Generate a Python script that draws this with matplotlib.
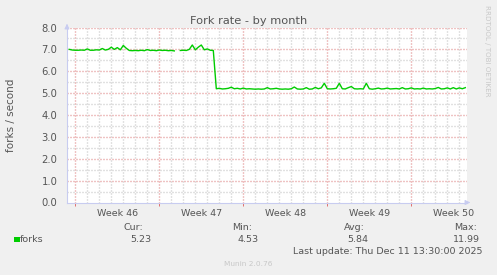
import numpy as np
import matplotlib
matplotlib.use("Agg")
import matplotlib.pyplot as plt

# ---- data (6-hour steps, days relative to start of Week 46) ----
start_day = -0.5
step_day = 0.25
forks = [
    7.00, 6.97, 6.96, 6.96, 6.97, 6.96, 7.02, 6.96, 6.96, 6.98,
    6.97, 7.04, 6.97, 7.00, 7.10, 7.00, 7.08, 6.98, 7.18, 7.05,
    6.95, 6.94, 6.95, 6.94, 6.96, 6.94, 6.99, 6.95, 6.96, 6.94,
    6.97, 6.95, 6.96, 6.94, 6.95, 6.93, np.nan, 6.95, 6.96, 6.95,
    7.00, 7.20, 6.98, 7.10, 7.20, 6.98, 7.02, 6.96, 6.95, 5.20,
    5.22, 5.19, 5.20, 5.22, 5.27, 5.20, 5.22, 5.19, 5.23, 5.19,
    5.20, 5.19, 5.18, 5.19, 5.18, 5.19, 5.25, 5.19, 5.20, 5.22,
    5.19, 5.18, 5.19, 5.18, 5.20, 5.28, 5.19, 5.18, 5.19, 5.25,
    5.18, 5.19, 5.26, 5.20, 5.24, 5.45, 5.20, 5.19, 5.20, 5.22,
    5.45, 5.20, 5.19, 5.25, 5.30, 5.20, 5.19, 5.20, 5.19, 5.45,
    5.20, 5.18, 5.20, 5.23, 5.19, 5.20, 5.23, 5.19, 5.20, 5.21,
    5.19, 5.25, 5.19, 5.20, 5.24, 5.19, 5.20, 5.19, 5.23, 5.19,
    5.20, 5.19, 5.21, 5.26, 5.19, 5.20, 5.24, 5.19, 5.25, 5.19,
    5.24, 5.20, 5.25,
]
week_labels = ["Week 46", "Week 47", "Week 48", "Week 49", "Week 50"]
week_starts = [0, 7, 14, 21, 28]
y_ticks = [0.0, 1.0, 2.0, 3.0, 4.0, 5.0, 6.0, 7.0, 8.0]
legend_name = "forks"
stat_names = ["Cur:", "Min:", "Avg:", "Max:"]
stat_values = ["5.23", "4.53", "5.84", "11.99"]

days = start_day + step_day * np.arange(len(forks))

W, H = 497, 275
fig = plt.figure(figsize=(W / 100, H / 100), dpi=100, facecolor="#F0F0F0")
plt.rcParams["font.family"] = ["DejaVu Sans"]

x0, x1 = 67, 467
ytop, ybot = 27.5, 202.5
ax = fig.add_axes([x0 / W, 1 - ybot / H, (x1 - x0) / W, (ybot - ytop) / H])
ax.set_facecolor("white")
xmin = -8.3 / 12
xmax = xmin + (x1 - x0) / 12
ax.set_xlim(xmin, xmax)
ax.set_ylim(0, 8)

text_c = "#555555"
minor_c = "#C4C4C4"
major_c = "#E08888"
dot = (0, (0.72, 1.44))
glw = 1.0

# grid
d = int(np.floor(xmin))
for dd in range(d, int(np.ceil(xmax)) + 1):
    if xmin < dd < xmax:
        c = major_c if dd in week_starts else minor_c
        ax.axvline(dd, color=c, lw=glw, ls=dot, zorder=1, snap=True)
for yv in np.arange(0.5, 8.01, 0.5):
    c = major_c if abs(yv - round(yv)) < 1e-9 else minor_c
    ax.axhline(yv, color=c, lw=glw, ls=dot, zorder=1 if c == minor_c else 1.5,
               snap=True)

ax.plot(days, forks, color="#00CC00", lw=1.0, zorder=3)

# axes styling
for s in ["top", "right"]:
    ax.spines[s].set_visible(False)
for s in ["left", "bottom"]:
    ax.spines[s].set_color("#C8CCF0")
    ax.spines[s].set_linewidth(0.8)

ax.set_yticks(y_ticks)
ax.set_yticklabels([f"{v:.1f}" for v in y_ticks])
ax.tick_params(axis="y", length=0, pad=7, labelsize=7.2, colors=text_c)
ax.set_xticks(week_starts)
ax.set_xticklabels([])
ax.tick_params(axis="x", length=2, color="#E07070", width=0.7, direction="out")
sec = ax.secondary_xaxis("bottom")
sec.set_xticks([w + 3.5 for w in week_starts])
sec.set_xticklabels(week_labels)
sec.tick_params(length=0, pad=5, labelsize=6.8, colors=text_c)
sec.spines["bottom"].set_visible(False)

# arrows
ax.annotate("", xy=(x0 / W, 1 - 21 / H), xytext=(x0 / W, 1 - 29 / H),
            xycoords="figure fraction",
            arrowprops=dict(arrowstyle="-|>", color="#C8CCF0", lw=0.8,
                            mutation_scale=7))
ax.annotate("", xy=(473 / W, 1 - ybot / H), xytext=(465 / W, 1 - ybot / H),
            xycoords="figure fraction",
            arrowprops=dict(arrowstyle="-|>", color="#C8CCF0", lw=0.8,
                            mutation_scale=7))

def ftext(px, py, s, **kw):
    fig.text(px / W, 1 - py / H, s, **kw)

ftext(248.5, 21, "Fork rate - by month", ha="center", va="center",
      fontsize=8.2, color=text_c)
ftext(11, 115, "forks / second", ha="center", va="center", rotation=90,
      fontsize=7.5, color=text_c)
ftext(487, 51, "RRDTOOL / TOBI OETIKER", ha="center", va="center",
      rotation=270, fontsize=5.1, color="#C8C8C8")

# legend
fig.patches.append(plt.Rectangle((14 / W, 1 - 242 / H), 5.5 / W, 5.5 / H,
                                 transform=fig.transFigure,
                                 facecolor="#00CC00", edgecolor="none"))
ftext(20, 239.5, legend_name, ha="left", va="center", fontsize=6.8, color=text_c)
label_x = [133, 242, 354, 466]
value_right = [151, 259, 368, 479.5]
for lx, vr, nm, val in zip(label_x, value_right, stat_names, stat_values):
    ftext(lx, 227.5, nm, ha="center", va="center", fontsize=6.8, color=text_c)
    ftext(vr, 239.5, val, ha="right", va="center", fontsize=6.8, color=text_c)
ftext(482.5, 251, "Last update: Thu Dec 11 13:30:00 2025", ha="right",
      va="center", fontsize=6.8, color=text_c)
ftext(248, 263.5, "Munin 2.0.76", ha="center", va="center", fontsize=5.3,
      color="#C8C8C8")

fig.savefig("out.png", dpi=100, facecolor=fig.get_facecolor())
